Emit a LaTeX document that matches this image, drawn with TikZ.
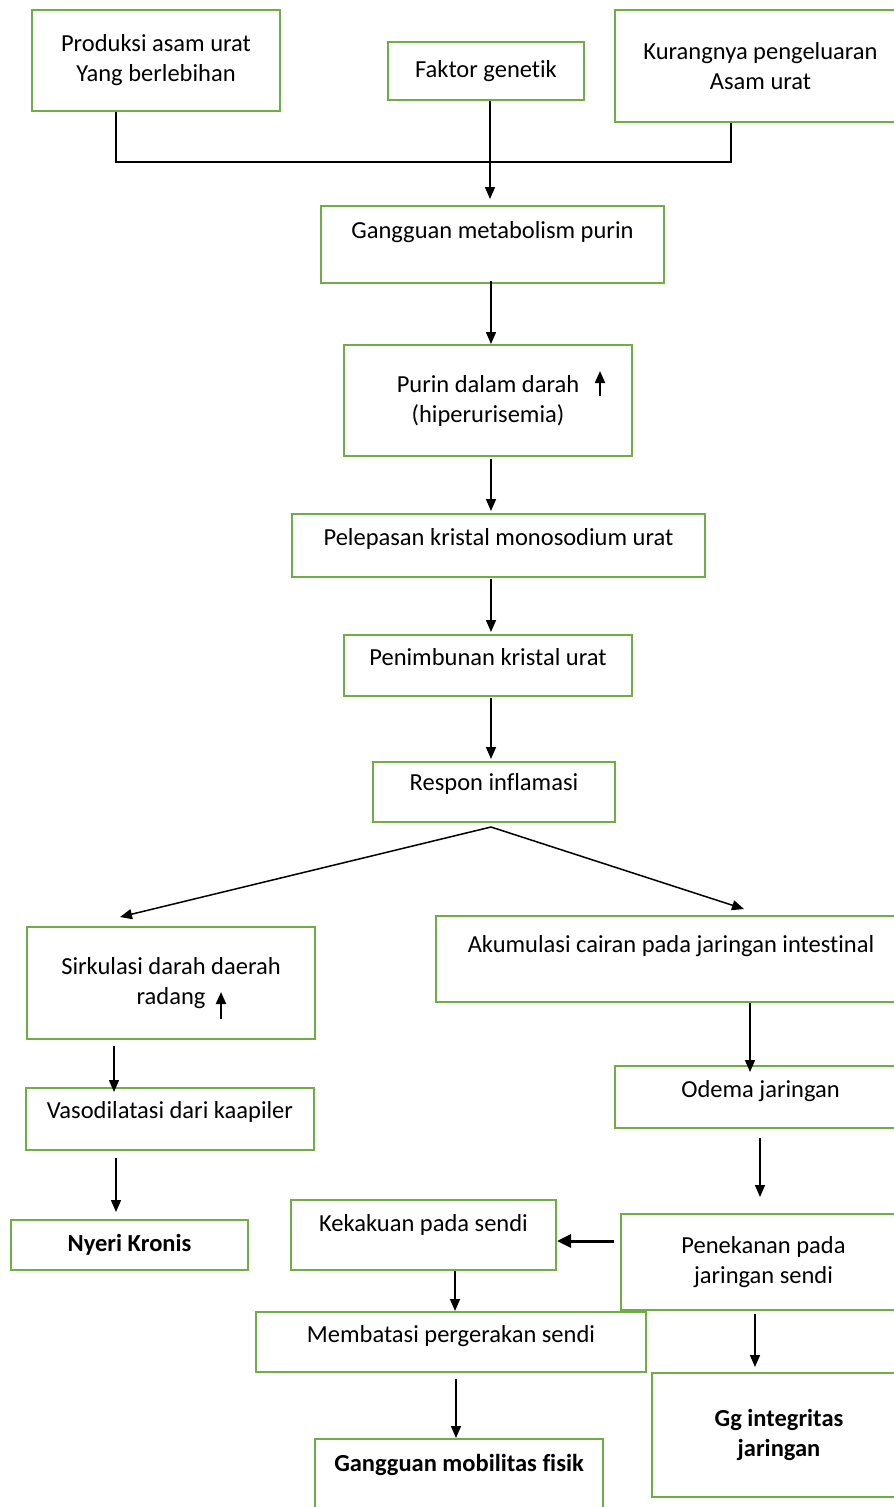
\documentclass[tikz,border=0pt]{standalone}
\usepackage{fontspec}
\setmainfont{Carlito}[Ligatures=NoCommon]
\usetikzlibrary{arrows.meta}
\definecolor{boxgreen}{RGB}{112,173,71}
\tikzset{
  box/.style={draw=boxgreen, line width=2pt, align=center, inner sep=0pt,
    font=\fontsize{24.5}{30}\selectfont},
  boldbox/.style={box, font=\fontsize{24.5}{30}\selectfont\bfseries},
  arr/.style={-{Triangle[length=12pt,width=10pt]}, line width=1.5pt},
  uparr/.style={-{Triangle[length=12pt,width=10pt]}, line width=2pt},
}
\begin{document}
\begin{tikzpicture}[x=1pt,y=-1pt]
\useasboundingbox (0,0) rectangle (894,1507);
% boxes
\node[box, minimum width=248pt, minimum height=101pt] (produksi) at (156,60.5) {Produksi asam urat\\Yang berlebihan};
\node[box, minimum width=196pt, minimum height=58pt] (faktor) at (486,71) {Faktor genetik};
\node[box, minimum width=291pt, minimum height=112pt] (kurang) at (760.5,66) {Kurangnya pengeluaran\\Asam urat};
\node[box, minimum width=343pt, minimum height=77pt, text depth=29pt] (gangguan) at (492.5,244.5) {Gangguan metabolism purin};
\node[box, minimum width=288pt, minimum height=111pt] (purin) at (488,400.5) {Purin dalam darah\\(hiperurisemia)};
\node[box, minimum width=413pt, minimum height=63pt, text depth=17pt] (pelepasan) at (498.5,545.5) {Pelepasan kristal monosodium urat};
\node[box, minimum width=288pt, minimum height=61pt, text depth=17pt] (penimbunan) at (488,665.5) {Penimbunan kristal urat};
\node[box, minimum width=242pt, minimum height=60pt, text depth=20pt] (respon) at (494,792) {Respon inflamasi};
\node[box, minimum width=288pt, minimum height=112pt] (sirkulasi) at (171,983) {Sirkulasi darah daerah\\radang};
\node[box, minimum width=470pt, minimum height=86pt, text depth=30pt] (akumulasi) at (671,959) {Akumulasi cairan pada jaringan intestinal};
\node[box, minimum width=288pt, minimum height=62pt, text depth=18pt] (vaso) at (170,1119) {Vasodilatasi dari kaapiler};
\node[box, minimum width=291pt, minimum height=62pt, text depth=16pt] (odema) at (760.5,1097) {Odema jaringan};
\node[boldbox, minimum width=237pt, minimum height=50pt] (nyeri) at (129.5,1245) {Nyeri Kronis};
\node[box, minimum width=265pt, minimum height=70pt, text depth=24pt] (kekakuan) at (423.5,1235) {Kekakuan pada sendi};
\node[box, minimum width=285pt, minimum height=96pt] (penekanan) at (763.5,1262) {Penekanan pada\\jaringan sendi};
\node[box, minimum width=390pt, minimum height=60pt, text depth=16pt] (membatasi) at (451,1342) {Membatasi pergerakan sendi};
\node[boldbox, minimum width=288pt, minimum height=101pt, text depth=53pt] (mobilitas) at (459,1489.5) {Gangguan mobilitas fisik};
\node[boldbox, minimum width=254pt, minimum height=124pt] (integritas) at (779,1435) {Gg integritas\\jaringan};
% helper coordinates
\coordinate (mergeL) at (116,162);
\coordinate (mergeR) at (731,162);
\coordinate (fk) at (490,0);
\coordinate (spine) at (491,0);
\coordinate (lc1) at (114,0);
\coordinate (lc2) at (116,0);
\coordinate (rc1) at (750,0);
\coordinate (rc2) at (760,0);
\coordinate (rc3) at (755,0);
\coordinate (mc1) at (455,0);
\coordinate (mc2) at (456,0);
\coordinate (hr) at (0,1241);
% top
\draw[line width=1.2pt] (produksi.south -| mergeL) -- (mergeL) -- (mergeR) -- (kurang.south -| mergeR);
\draw[arr, shorten >=6pt] (faktor.south -| fk) -- (gangguan.north -| fk);
% middle chain
\draw[arr] ([yshift=3pt]gangguan.south -| spine) -- (purin.north -| spine);
\draw[arr] ([yshift=-2pt]purin.south -| spine) -- ([yshift=2pt]pelepasan.north -| spine);
\draw[arr] ([yshift=-1pt]pelepasan.south -| spine) -- ([yshift=2pt]penimbunan.north -| spine);
\draw[arr] ([yshift=-1pt]penimbunan.south -| spine) -- ([yshift=2pt]respon.north -| spine);
\draw[arr] ([yshift=-4pt]respon.south -| spine) -- ([xshift=-51pt,yshift=9pt]sirkulasi.north);
\draw[arr] ([yshift=-4pt]respon.south -| spine) -- ([xshift=73pt,yshift=6pt]akumulasi.north);
% left side
\draw[arr] ([yshift=-6pt]sirkulasi.south -| lc1) -- ([yshift=-5pt]vaso.north -| lc1);
\draw[arr] ([yshift=-7pt]vaso.south -| lc2) -- ([yshift=7pt]nyeri.north -| lc2);
% right side
\draw[arr] (akumulasi.south -| rc1) -- ([yshift=-7pt]odema.north -| rc1);
\draw[arr] ([yshift=-9pt]odema.south -| rc2) -- ([yshift=16pt]penekanan.north -| rc2);
\draw[-{Triangle[length=14pt,width=13pt]}, line width=3pt] ([xshift=-6pt]penekanan.west |- hr) -- (kekakuan.east |- hr);
\draw[arr] ([yshift=-3pt]penekanan.south -| rc3) -- ([yshift=5pt]integritas.north -| rc3);
% bottom middle
\draw[arr] (kekakuan.south -| mc1) -- (membatasi.north -| mc1);
\draw[arr] ([yshift=-6pt]membatasi.south -| mc2) -- (mobilitas.north -| mc2);
% small up arrows
\draw[uparr] ([xshift=112pt,yshift=4.5pt]purin.center) -- ++(0,-25);
\draw[uparr] ([xshift=50pt,yshift=-36pt]sirkulasi.center) -- ++(0,-27);
\end{tikzpicture}
\end{document}
